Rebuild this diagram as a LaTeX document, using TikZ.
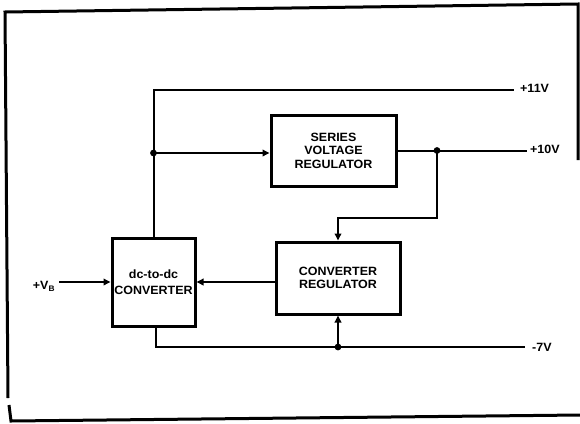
\documentclass[tikz,border=0pt]{standalone}
\usepackage{fontspec}
\setmainfont{Liberation Sans}[FakeStretch=1.04]
\usetikzlibrary{arrows.meta}
\begin{document}
\begin{tikzpicture}[x=1pt,y=-1pt,
  blk/.style={draw,line width=3pt,inner sep=0pt,align=center,font=\fontsize{12}{13.5}\selectfont\bfseries},
  wire/.style={line width=2pt},
  arr/.style={wire,-{Triangle[length=7pt,width=6.5pt]}},
  lbl/.style={font=\fontsize{12}{13.5}\selectfont\bfseries,inner sep=0pt},
  frame/.style={line width=3pt}]
\useasboundingbox (0,0) rectangle (580,423);
% outer frame
\draw[frame] (578,160) -- (578,4) -- (5,12) -- (8,398);
\draw[frame] (9,405) -- (11,421) -- (580,415);
% blocks
\node[blk,minimum width=83pt,minimum height=88pt] (dcdc) at (153.5,282) {dc-to-dc\\[3pt]CONVERTER};
\node[blk,minimum width=125pt,minimum height=71pt] (svr) at (333.5,150.5) {SERIES\\VOLTAGE\\REGULATOR};
\node[blk,minimum width=124pt,minimum height=72pt] (cr) at (338,278) {CONVERTER\\REGULATOR};
% coordinates
\coordinate (j1) at (153.5,153);
\coordinate (e11) at (514,90);
\coordinate (j10) at (437,150.5);
\coordinate (e10) at (527,150.5);
\coordinate (fb) at (0,218);
\coordinate (vb) at (59,282);
\coordinate (b1) at (156,347);
\coordinate (j7) at (338,347);
\coordinate (e7) at (525,347);
% +11V bus
\draw[wire] (dcdc.north) -- (dcdc.north |- e11) -- (e11);
\draw[arr] (j1) -- (j1 -| svr.west);
\fill (j1) circle (3.4pt);
% +10V
\draw[wire] (svr.east) -- (e10);
\fill (j10) circle (3.4pt);
\draw[arr] (j10) -- (j10 |- fb) -| (cr.north);
% converter regulator to dc-dc
\draw[arr] (cr.west |- dcdc.east) -- (dcdc.east);
% VB input
\draw[arr] (vb) -- (dcdc.west);
% -7V bus
\draw[wire] (dcdc.south -| b1) -- (b1) -- (e7);
\draw[arr] (j7) -- (cr.south);
\fill (j7) circle (3.4pt);
% labels
\node[lbl,anchor=west] (l11) at (520,88) {+11V};
\node[lbl,anchor=west] (l10) at (530,149) {+10V};
\node[lbl,anchor=west] (l7) at (532,347) {-7V};
\node[lbl,anchor=east] (lvb) at (55,286) {+V$_{\mathbf{B}}$};
\end{tikzpicture}
\end{document}
